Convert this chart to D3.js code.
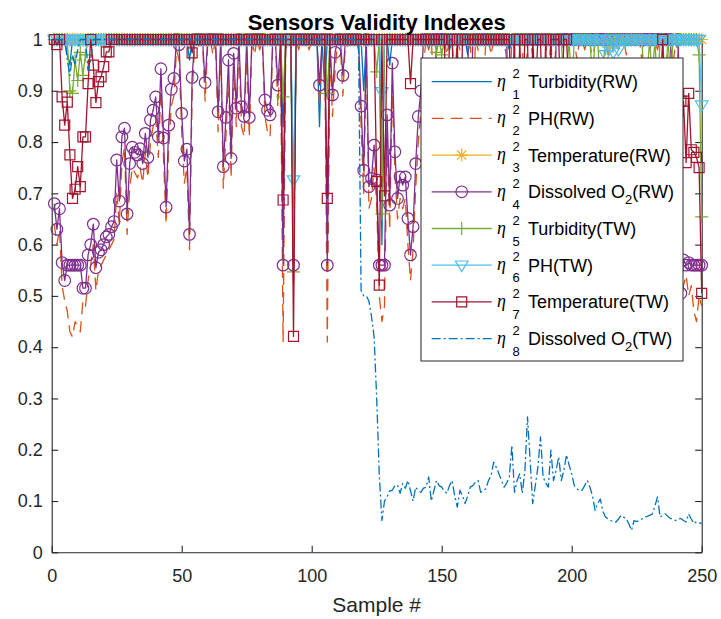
<!DOCTYPE html>
<html>
<head>
<meta charset="utf-8">
<script src="https://cdn.jsdelivr.net/npm/d3@7/dist/d3.min.js"></script>
<style>
  body { margin: 0; background: #fff; }
  text { font-family: 'Liberation Sans', Arial, Helvetica, sans-serif; }
</style>
</head>
<body>
<svg id="chart" width="721" height="619"></svg>
<script>
// ---- data (sample # 1..250) ----
const samples = d3.range(1, 251);
const xTicks = [0, 50, 100, 150, 200, 250];
const yTicks = [0, 0.1, 0.2, 0.3, 0.4, 0.5, 0.6, 0.7, 0.8, 0.9, 1];

const turbidityRW = [
  1,1,1,1,1,.97,.95,1,1,1, 1,1,1,1,1,1,1,1,1,1, 1,1,1,1,1,1,1,1,1,1, 1,1,1,1,1,1,1,1,1,1, 1,1,1,1,1,1,1,1,1,1,
  1,1,.96,1,1,1,1,1,1,1, 1,1,1,1,1,1,1,1,1,1, 1,1,1,1,1,1,1,1,1,1, 1,1,1,1,1,1,1,1,.83,1, 1,1,.55,1,1,1,1,1,1,1,
  1,1,.83,1,.9,1,1,1,1,1, 1,1,1,1,1,1,1,1,1,.9, 1,1,1,1,1,1,.6,1,1,.95, 1,1,1,1,1,1,1,1,1,1, 1,1,1,1,1,1,1,1,1,1,
  1,1,.98,1,1,1,1,1,1,.97, 1,1,1,1,1,1,1,1,1,1, 1,1,1,1,1,.98,1,1,1,1, 1,1,1,1,1,1,1,1,1,1, 1,1,1,1,1,1,1,1,1,1,
  1,1,1,1,1,1,1,1,1,1, 1,1,1,1,1,1,1,1,1,1, 1,1,1,1,1,1,1,1,1,1, 1,1,1,1,1,1,1,1,1,1, 1,1,1,1,1,1,1,1,1,1
];
const phRW = [
  .64,.6,.63,.52,.49,.47,.43,.42,.45,.44, .43,.49,.48,.53,.56,.6,.51,.55,.56,.57, .58,.59,.6,.61,.7,.64,.76,.79,.62,.71,
  .75,.74,.73,.75,.72,.78,.73,.8,.83,.85, .77,.9,.77,.64,.79,.87,.89,.98,.96,.82, .72,.75,.59,.89,.99,1,.98,1,.88,.99,
  1,.97,1,.82,.99,.71,.81,.93,.73,.94, .83,.99,.83,.81,.98,.81,1,.97,1,.98, 1,.85,.82,.81,.99,1,.87,.98,.41,.98,
  1,.99,.52,1,.98,1,.99,1,.98,1, .99,1,.87,.99,1,.41,.98,.85,.94,1, .99,.89,1,.98,1,.99,1,.98,.83,.7,
  .98,.67,.69,.75,.68,.5,.45,.48,.81,.63, .91,.74,.65,.69,.67,.69,.6,.53,.59,.71, .8,.86,.95,1,.98,1,.9,1,.99,1,
  1,.97,1,1,.92,1,.98,1,1,.99, 1,.85,1,.98,.8,.9,1,1,.97,1, 1,.99,1,1,.96,.88,1,.98,1,1,
  .99,.85,1,1,.97,1,1,.99,1,1, .93,1,.9,1,1,.98,1,1,.99,1, 1,.96,1,1,.98,1,1,.95,1,1,
  .99,1,1,.97,1,1,.98,1,1,1, .97,1,1,.99,1,1,.96,1,1,.98, 1,1,.98,1,1,.9,1,.99,.95,1,
  .97,.48,.52,.54,.5,.52,.47,.45,.5,.48
];
const temperatureRW = [
  1,1,1,1,1,1,1,1,1,1, 1,1,1,1,1,1,1,1,1,1, 1,1,1,1,1,1,1,1,1,1, 1,1,1,1,1,1,1,1,1,1, 1,1,1,1,1,1,1,1,1,1,
  1,1,1,1,1,1,1,1,1,1, 1,1,1,1,1,1,1,1,1,1, 1,1,1,1,1,1,1,1,1,1, 1,1,1,1,1,1,1,1,1,1, 1,1,1,1,1,1,1,1,1,1,
  1,1,1,1,1,1,1,1,1,1, 1,1,1,1,1,1,1,1,1,1, 1,1,1,1,1,1,1,1,1,1, 1,1,1,1,1,1,1,1,1,1, 1,1,1,1,1,1,1,1,1,1,
  1,1,1,1,1,1,1,1,1,1, 1,1,1,1,1,1,1,1,1,1, 1,1,1,1,1,1,1,1,1,1, 1,1,1,1,1,1,1,1,1,1, 1,1,1,1,1,1,1,1,1,1,
  1,1,1,1,1,1,1,1,1,1, 1,1,1,.985,1,.99,1,1,1,1, 1,1,1,1,1,1,1,1,1,1, 1,1,1,1,1,1,1,1,1,1, 1,1,1,1,1,1,1,1,1,1
];
const dissolvedO2RW = [
  .68,.63,.67,.565,.53,.56,.56,.56,.56,.56, .56,.515,.515,.58,.6,.64,.555,.585,.59,.6,
  .615,.62,.635,.645,.765,.685,.81,.827,.66,.758, .79,.78,.775,.787,.758,.817,.77,.843,.862,.888,
  .81,.943,.808,.673,.833,.903,.924,1,.99,.856, .763,.786,.62,.926,1,1,1,1,.916,1,
  1,1,1,.859,1,.752,.848,.96,.768,.973, .866,1,.869,.85,1,.848,1,1,1,1,
  1,.882,.862,.853,1,1,.911,1,.56,1, 1,1,.56,1,1,1,1,1,1,1,
  1,1,.911,1,1,.56,1,.892,.975,1, 1,.93,1,1,1,1,1,1,.87,.745,
  1,.713,.729,.794,.726,.56,.56,.56,.853,.677, .954,.781,.69,.732,.716,.732,.651,.58,.635,.758,
  .85,.9,1,1,1,1,1,1,1,1, 1,1,1,1,1,1,1,1,1,1, .8,1,1,1,1,1,1,1,1,1,
  1,1,1,1,1,.75,.85,1,1,1, 1,1,1,1,1,1,1,1,1,1, 1,1,.7,1,1,1,1,1,1,1,
  1,1,1,1,1,1,1,1,1,1, 1,1,1,1,1,1,1,1,1,1, 1,1,1,1,1,1,1,1,1,1,
  1,1,1,1,1,1,1,1,.8,.7, 1,.505,.57,.56,.565,.56,.56,.56,.56,.56
];
const turbidityTW = [
  1,1,1,1,1,1,.9,.895,.96,.92, .975,.93,.97,1,1,1,1,1,1,1, 1,1,1,1,1,1,1,1,1,1, 1,1,1,1,1,1,1,1,1,1, 1,1,1,1,1,1,1,1,1,1,
  1,1,1,1,1,1,1,1,1,1, 1,1,1,1,1,1,1,1,1,1, 1,1,1,1,1,1,1,1,1,1, 1,1,1,1,1,1,1,1,.888,1, 1,1,.547,1,1,1,1,1,1,1,
  1,1,1,1,1,.895,1,1,1,1, 1,1,1,1,1,1,1,1,1,1, 1,1,1,1,.937,1,.66,1,1,1, 1,1,1,1,1,1,1,1,1,1, 1,1,1,1,1,1,1,.975,1,.97,
  1,1,1,1,1,1,1,1,1,1, 1,1,1,1,1,1,1,1,1,1, 1,1,1,1,1,1,1,1,1,1, 1,1,1,1,1,1,1,1,1,1, 1,1,1,1,1,1,.9,.93,1,.9,
  1,1,1,1,1,1,1,.92,1,1, .9,.94,1,1,1,1,1,1,1,1, 1,1,1,1,1,1,1,.9,.93,1, .92,1,.9,1,1,.91,1,.93,1,1, 1,1,1,1,1,1,1,1,.97,.654
];
const phTW = [
  1,1,1,1,1,1,1,1,1,1, 1,1,1,1,1,1,1,1,1,1, 1,1,1,1,1,1,1,1,1,1, 1,1,1,1,1,1,1,1,1,1, 1,1,1,1,1,1,1,1,1,1,
  1,1,1,1,1,1,1,1,1,1, 1,1,1,1,1,1,1,1,1,1, 1,1,1,1,1,1,1,1,1,1, 1,1,1,1,1,1,1,1,1,1, 1,1,.726,1,1,1,1,1,1,1,
  1,1,1,1,1,1,1,1,1,1, 1,1,1,1,1,1,1,1,1,1, 1,1,1,1,1,1,.898,1,1,1, 1,1,1,1,1,1,1,1,1,1, 1,1,1,1,1,1,1,1,1,1,
  1,1,1,1,1,1,1,1,1,1, 1,1,1,1,1,1,1,1,1,1, 1,1,1,1,1,1,1,1,1,1, 1,1,1,1,1,1,1,1,1,1, 1,1,1,1,1,1,1,1,1,1,
  1,1,1,1,1,1,1,1,1,1, 1,1,.97,1,1,.975,1,.98,1,1, 1,1,1,1,1,1,1,1,1,1, 1,1,1,1,1,1,1,1,1,1, 1,1,1,1,1,1,1,1,1,.872
];
const temperatureTW = [
  1,.99,1,.888,.833,.878,.775,.69,.708,.752, .713,.81,.81,.914,1,.95,.877,.918,.927,.947,
  .976,.976,1,1,1,1,1,1,1,1, 1,1,1,1,1,1,1,1,1,1, 1,1,1,1,1,1,1,1,1,1,
  1,1,1,.974,1,1,1,1,1,1, 1,1,1,1,1,1,1,1,1,1, 1,1,1,1,1,1,1,1,1,1,
  1,1,1,1,1,1,1,1,.687,1, 1,1,.421,1,1,1,1,1,1,1, 1,1,1,1,1,.69,1,1,1,1,
  1,1,1,1,1,1,1,1,1,1, 1,1,1,1,.723,.521,1,.695,1,1, 1,1,1,1,1,1,1,.914,1,1,
  1,1,1,1,1,1,1,1,1,1, 1,.8,1,1,.85,1,.75,1,1,1, 1,1,1,1,1,1,1,1,1,1,
  1,1,1,1,1,1,.8,1,.7,1, .85,1,1,.75,1,.9,1,1,.8,1, .7,1,1,1,1,.85,1,1,.9,.85,
  .8,.78,.82,.86,.8,.75,.77,.83,.88,.85, .8,.79,.84,.9,.87,.82,.78,.8,.85,.88,
  .83,.79,.76,.81,.86,.9,.84,.8,.77,.82, .87,.85,.8,.9,1,.85,.8,.82,.78,.84,
  .86,.88,.88,.76,.895,.785,.78,.77,.75,.505
];
const dissolvedO2TW = [
  1,1,1,1,1,.96,.93,.97,.95,.98, 1,1,1,.94,.96,1,1,1,1,1, 1,1,1,1,1,1,1,1,1,1, 1,1,1,1,1,1,1,1,1,1, 1,1,1,1,1,1,1,1,1,1,
  1,1,1,1,1,1,1,1,1,1, 1,1,1,1,1,1,1,1,1,1, 1,1,1,1,1,1,1,1,1,1, 1,1,1,1,1,1,1,1,1,1, 1,1,1,1,1,1,1,1,1,1,
  1,1,1,1,1,1,1,1,1,1, 1,1,1,1,1,1,1,1,.51,.5, .5,.49,.46,.42,.3,.15,.062,.1,.108,.12,
  .121,.13,.131,.115,.134,.125,.14,.12,.1,.127, .12,.117,.125,.127,.147,.1,.12,.14,.13,.127,
  .12,.115,.13,.14,.11,.088,.121,.11,.095,.11, .127,.13,.137,.14,.117,.12,.124,.14,.15,.176,
  .166,.153,.14,.127,.135,.147,.209,.117,.14,.153, .115,.16,.264,.18,.095,.13,.166,.225,.147,.135,
  .127,.199,.14,.16,.186,.14,.16,.19,.17,.153, .13,.124,.12,.121,.13,.14,.127,.11,.082,.095,
  .104,.08,.069,.065,.062,.06,.059,.065,.072,.068, .066,.055,.043,.062,.06,.062,.065,.069,.07,.072,
  .075,.09,.108,.069,.072,.075,.07,.066,.064,.062, .065,.066,.062,.059,.075,.065,.056,.06,.058,.056
];

// ---- series styling (MATLAB default colour order) ----
const series = [
  { values: turbidityRW,   color: '#0072BD', dash: null,       marker: null,       idx: '1', label: ['Turbidity(RW)'] },
  { values: phRW,          color: '#D95319', dash: '12,7',     marker: null,       idx: '2', label: ['PH(RW)'] },
  { values: temperatureRW, color: '#EDB120', dash: null,       marker: 'asterisk', idx: '3', label: ['Temperature(RW)'] },
  { values: dissolvedO2RW, color: '#7E2F8E', dash: null,       marker: 'circle',   idx: '4', label: ['Dissolved O', '2', '(RW)'] },
  { values: turbidityTW,   color: '#77AC30', dash: null,       marker: 'plus',     idx: '5', label: ['Turbidity(TW)'] },
  { values: phTW,          color: '#4DBEEE', dash: null,       marker: 'triangle', idx: '6', label: ['PH(TW)'] },
  { values: temperatureTW, color: '#A2142F', dash: null,       marker: 'square',   idx: '7', label: ['Temperature(TW)'] },
  { values: dissolvedO2TW, color: '#0072BD', dash: '9,3,2,3',  marker: null,       idx: '8', label: ['Dissolved O', '2', '(TW)'] }
];

const markerPath = {
  asterisk: 'M-6.5,0H6.5M0,-6.5V6.5M-4.6,-4.6L4.6,4.6M-4.6,4.6L4.6,-4.6',
  plus: 'M-6.5,0H6.5M0,-6.5V6.5',
  triangle: 'M-6.3,-4.2L6.3,-4.2L0,6.3Z',
  square: 'M-5,-5H5V5H-5Z'
};

const svg = d3.select('#chart');
const margin = { top: 39.5, right: 19.3, bottom: 66.7, left: 51.7 };
const width = 721 - margin.left - margin.right;
const height = 619 - margin.top - margin.bottom;

const x = d3.scaleLinear().domain([0, 250]).range([0, width]);
const y = d3.scaleLinear().domain([0, 1]).range([height, 0]);

const g = svg.append('g').attr('transform', `translate(${margin.left},${margin.top})`);

// axes box with inward ticks (drawn below the data, like MATLAB)
const axisColor = '#262626';
function styleAxis(sel) {
  sel.select('.domain').attr('stroke', axisColor).attr('stroke-width', 1.1);
  sel.selectAll('.tick line').attr('stroke', axisColor).attr('stroke-width', 1.1);
  sel.selectAll('.tick text').attr('fill', axisColor).style('font-size', '18px');
}
g.append('g').attr('transform', `translate(0,${height})`)
    .call(d3.axisBottom(x).tickValues(xTicks).tickSizeInner(-6.5).tickSizeOuter(0).tickPadding(17).tickFormat(d => d))
    .call(styleAxis);
g.append('g')
    .call(d3.axisTop(x).tickValues(xTicks).tickSizeInner(-6.5).tickSizeOuter(0).tickFormat(''))
    .call(styleAxis);
g.append('g')
    .call(d3.axisLeft(y).tickValues(yTicks).tickSizeInner(-6.5).tickSizeOuter(0).tickPadding(9).tickFormat(d => d))
    .call(styleAxis);
g.append('g').attr('transform', `translate(${width},0)`)
    .call(d3.axisRight(y).tickValues(yTicks).tickSizeInner(-6.5).tickSizeOuter(0).tickFormat(''))
    .call(styleAxis);
g.selectAll('.domain').attr('fill', 'none');

function drawMarkers(sel, s) {
  if (s.marker === 'circle') {
    sel.append('circle').attr('r', 5.8);
  } else {
    sel.append('path').attr('d', markerPath[s.marker]);
  }
  sel.attr('fill', 'none').attr('stroke', s.color).attr('stroke-width', 1.2);
}

// lines + markers, one series after the other
const line = d3.line().x((d, i) => x(samples[i])).y(d => y(d));
series.forEach(s => {
  const sg = g.append('g');
  sg.append('path')
      .datum(s.values)
      .attr('d', line)
      .attr('fill', 'none')
      .attr('stroke', s.color)
      .attr('stroke-width', 1.3)
      .attr('stroke-linejoin', 'round')
      .attr('stroke-dasharray', s.dash);
  if (s.marker) {
    sg.selectAll('g.mk')
        .data(s.values)
        .enter()
        .append('g')
        .attr('class', 'mk')
        .attr('transform', (d, i) => `translate(${x(samples[i])},${y(d)})`)
        .each(function() { drawMarkers(d3.select(this), s); });
  }
});

// title and x label
svg.append('text')
    .attr('x', margin.left + width / 2).attr('y', 30)
    .attr('text-anchor', 'middle')
    .style('font-size', '22px').style('font-weight', 'bold')
    .text('Sensors Validity Indexes');
svg.append('text')
    .attr('x', margin.left + width / 2).attr('y', 612)
    .attr('text-anchor', 'middle')
    .attr('fill', axisColor)
    .style('font-size', '21px')
    .text('Sample #');

// legend
const lg = svg.append('g').attr('transform', 'translate(421,58)');
lg.append('rect')
    .attr('width', 262).attr('height', 303)
    .attr('fill', '#fff').attr('stroke', axisColor).attr('stroke-width', 1);

const rows = lg.selectAll('g.row')
    .data(series)
    .enter()
    .append('g')
    .attr('class', 'row')
    .attr('transform', (d, i) => `translate(0,${23.7 + i * 36.7})`);

rows.append('line')
    .attr('x1', 10.7).attr('x2', 70.7)
    .attr('stroke', d => d.color)
    .attr('stroke-width', 1.3)
    .attr('stroke-dasharray', d => d.dash);
rows.filter(d => d.marker)
    .append('g')
    .attr('transform', 'translate(40.7,0)')
    .each(function(d) { drawMarkers(d3.select(this), d); });

rows.append('text')
    .attr('x', 76).attr('y', 5)
    .style('font-family', "'Liberation Serif', serif")
    .style('font-style', 'italic')
    .style('font-size', '18px')
    .text('\u03B7');
rows.append('text')
    .attr('x', 91.5).attr('y', -4)
    .style('font-size', '13px')
    .text('2');
rows.append('text')
    .attr('x', 91.5).attr('y', 17)
    .style('font-size', '13px')
    .text(d => d.idx);

const lbl = rows.append('text')
    .attr('x', 107).attr('y', 6.5)
    .style('font-size', '18px');
lbl.append('tspan').text(d => d.label[0]);
lbl.filter(d => d.label.length > 1).each(function(d) {
  const t = d3.select(this);
  t.append('tspan').attr('dy', 6).style('font-size', '13px').text(d.label[1]);
  t.append('tspan').attr('dy', -6).text(d.label[2]);
});
</script>
</body>
</html>
